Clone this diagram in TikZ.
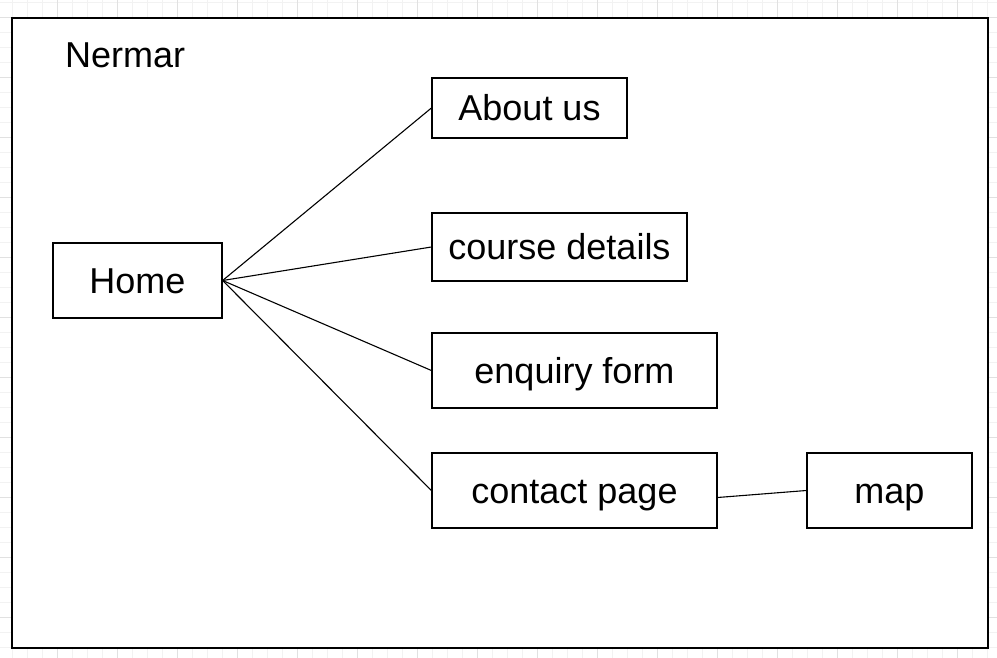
\documentclass[tikz,border=0pt]{standalone}
\usepackage{fontspec}
\setmainfont{Liberation Sans}
\begin{document}
\begin{tikzpicture}[x=1pt,y=-1pt,
  box/.style={draw=black,line width=1.2pt,fill=white,inner sep=0pt,text height=25.8pt,text depth=0pt,font=\fontsize{36}{42}\selectfont},
  link/.style={draw=black,line width=1.1pt},
  gridminor/.style={draw={rgb,255:red,242;green,242;blue,242},line width=0.8pt},
  gridmajor/.style={draw={rgb,255:red,225;green,225;blue,225},line width=0.8pt}]
\useasboundingbox (0,0) rectangle (997,658);
\fill[white] (0,0) rectangle (997,658);
\foreach \x in {12,27,...,997} {\draw[gridminor] (\x,0) -- (\x,658);}
\foreach \y in {2,17,...,658} {\draw[gridminor] (0,\y) -- (997,\y);}
\foreach \x in {57,117,...,997} {\draw[gridmajor] (\x,0) -- (\x,658);}
\foreach \y in {17,77,...,658} {\draw[gridmajor] (0,\y) -- (997,\y);}
\node[draw=black,line width=1.5pt,fill=white,minimum width=976pt,minimum height=630pt,inner sep=0pt] (frame) at (500,333) {};
\node[anchor=base west,inner sep=0pt,font=\fontsize{36}{42}\selectfont] (title) at (65,68) {Nermar};
\node[box,minimum width=169pt,minimum height=75pt] (home) at (137.5,280.5) {Home};
\node[box,minimum width=195pt,minimum height=60pt] (about) at (529.5,108) {About us};
\node[box,minimum width=255pt,minimum height=68pt] (course) at (559.5,247) {course details};
\node[box,minimum width=285pt,minimum height=75pt] (enquiry) at (574.5,370.5) {enquiry form};
\node[box,minimum width=285pt,minimum height=75pt] (contact) at (574.5,490.5) {contact page};
\node[box,minimum width=165pt,minimum height=75pt] (map) at (889.5,490.5) {map};
\draw[link] (home.east) -- (about.west);
\draw[link] (home.east) -- (course.west);
\draw[link] (home.east) -- (enquiry.west);
\draw[link] (home.east) -- (contact.west);
\draw[link] ([yshift=-7pt]contact.east) -- (map.west);
\end{tikzpicture}
\end{document}
